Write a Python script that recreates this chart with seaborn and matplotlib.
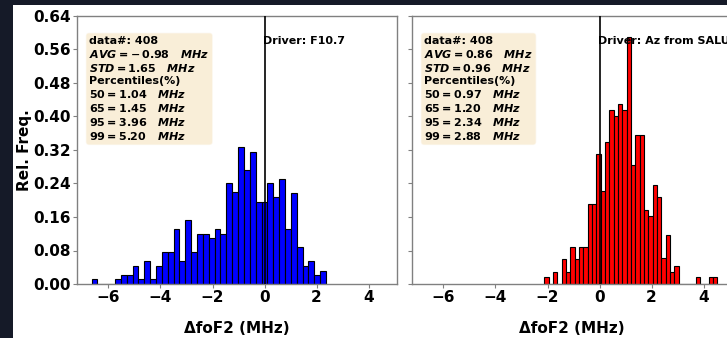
import numpy as np
import pandas as pd
import matplotlib
matplotlib.use("Agg")
import matplotlib.pyplot as plt
import seaborn as sns
from matplotlib.patches import Rectangle

# Relative frequency of ΔfoF2 (MHz) in 40 equal bins for each driver
f107_range = (-6.65, 2.36)
f107_freq = [0.012, 0.000, 0.000, 0.000, 0.012, 0.022, 0.022, 0.044, 0.012, 0.055,
             0.012, 0.044, 0.077, 0.077, 0.132, 0.055, 0.153, 0.077, 0.120, 0.120,
             0.110, 0.132, 0.120, 0.240, 0.219, 0.326, 0.273, 0.315, 0.197, 0.197,
             0.240, 0.207, 0.250, 0.131, 0.217, 0.089, 0.044, 0.054, 0.022, 0.032]

az_range = (-2.12, 4.53)
az_freq = [0.016, 0.000, 0.029, 0.000, 0.059, 0.029, 0.088, 0.059, 0.088, 0.088,
           0.192, 0.192, 0.311, 0.222, 0.340, 0.416, 0.400, 0.429, 0.416, 0.591,
           0.283, 0.356, 0.356, 0.177, 0.163, 0.237, 0.207, 0.061, 0.117, 0.029,
           0.043, 0.000, 0.000, 0.000, 0.000, 0.016, 0.000, 0.000, 0.016, 0.016]

# Summary statistics shown in each panel
n_data = [408, 408]
avg_mhz = [-0.98, 0.86]
std_mhz = [1.65, 0.96]
pct_levels = [50, 65, 95, 99]
pct_f107 = [1.04, 1.45, 3.96, 5.20]
pct_az = [0.97, 1.20, 2.34, 2.88]
drivers = ["F10.7", "Az from SALU"]
colors = ["#0000ff", "#ff0000"]

x_ticks = [-6, -4, -2, 0, 2, 4]
y_ticks = [0.00, 0.08, 0.16, 0.24, 0.32, 0.40, 0.48, 0.56, 0.64]

sns.set_style("ticks")
plt.rcParams["font.family"] = ["DejaVu Sans"]
plt.rcParams["font.weight"] = "bold"
plt.rcParams["text.color"] = "black"
plt.rcParams["axes.labelcolor"] = "black"
plt.rcParams["mathtext.fontset"] = "custom"
plt.rcParams["mathtext.rm"] = "DejaVu Sans:bold"
plt.rcParams["mathtext.it"] = "DejaVu Sans:italic:bold"
plt.rcParams["mathtext.bf"] = "DejaVu Sans:bold"

W, H = 727, 338
fig = plt.figure(figsize=(W / 100, H / 100), dpi=100, facecolor="#151a28")
fig.add_artist(Rectangle((13 / W, 0), 1, 333 / H, transform=fig.transFigure,
                         facecolor="white", edgecolor="none", zorder=-10))

ax1 = fig.add_axes([77 / W, 54 / H, 320 / W, 268 / H])
ax2 = fig.add_axes([412 / W, 54 / H, 320 / W, 268 / H], sharex=ax1, sharey=ax1)


def hist_panel(ax, rng, freq, color):
    nb = len(freq)
    width = (rng[1] - rng[0]) / nb
    centers = rng[0] + width * (np.arange(nb) + 0.5)
    df = pd.DataFrame({"dfoF2": centers, "freq": np.asarray(freq, dtype=float)})
    sns.histplot(data=df, x="dfoF2", weights="freq", bins=nb, binrange=rng,
                 stat="count", color=color, edgecolor="black", linewidth=0.8,
                 alpha=1.0, ax=ax)


def fmt_val(v):
    # binary-style spacing after a leading minus sign
    return (r"-\,%.2f" % abs(v)) if v < 0 else "%.2f" % v


def stats_text(n, avg, std, pcts):
    lines = [f"data#: {n}",
             rf"$AVG = {fmt_val(avg)}$   $MHz$",
             rf"$STD = {fmt_val(std)}$   $MHz$",
             "Percentiles(%)"]
    for lvl, v in zip(pct_levels, pcts):
        lines.append(rf"${lvl} = {fmt_val(v)}$   $MHz$")
    return "\n".join(lines)


panels = [(ax1, f107_range, f107_freq, pct_f107), (ax2, az_range, az_freq, pct_az)]
for i, (ax, rng, freq, pcts) in enumerate(panels):
    hist_panel(ax, rng, freq, colors[i])
    ax.axvline(0, color="black", lw=1.2, zorder=5)
    ax.text(0.038, 0.925, stats_text(n_data[i], avg_mhz[i], std_mhz[i], pcts),
            transform=ax.transAxes, va="top", ha="left", fontsize=8,
            fontweight="bold", color="black", zorder=6,
            bbox=dict(boxstyle="round", facecolor="wheat", alpha=0.5))
    ax.text(0.58, 0.905, f"Driver: {drivers[i]}", transform=ax.transAxes,
            va="center", ha="left", fontsize=8, fontweight="bold",
            color="black", zorder=6)
    ax.set_xlabel("ΔfoF2 (MHz)", fontsize=11, fontweight="bold", labelpad=11,
                  color="black")
    ax.set_ylabel("")
    for sp in ax.spines.values():
        sp.set_color("#808080")
        sp.set_linewidth(1.0)
    ax.tick_params(axis="both", colors="#808080", labelcolor="black",
                   labelsize=11, length=3, width=0.8, pad=1.5)

ax1.set_ylim(0, 0.64)
ax1.set_yticks(y_ticks)
ax1.set_yticklabels([f"{v:.2f}" for v in y_ticks])
ax1.set_xticks(x_ticks)
ax1.set_ylabel("Rel. Freq.", fontsize=11, fontweight="bold", color="black")
ax1.yaxis.set_label_coords(-0.142, 0.5)
ax2.tick_params(labelleft=False)

for ax in (ax1, ax2):
    for lab in ax.get_xticklabels() + ax.get_yticklabels():
        lab.set_fontweight("bold")

fig.savefig("out.png", dpi=100, facecolor=fig.get_facecolor())
